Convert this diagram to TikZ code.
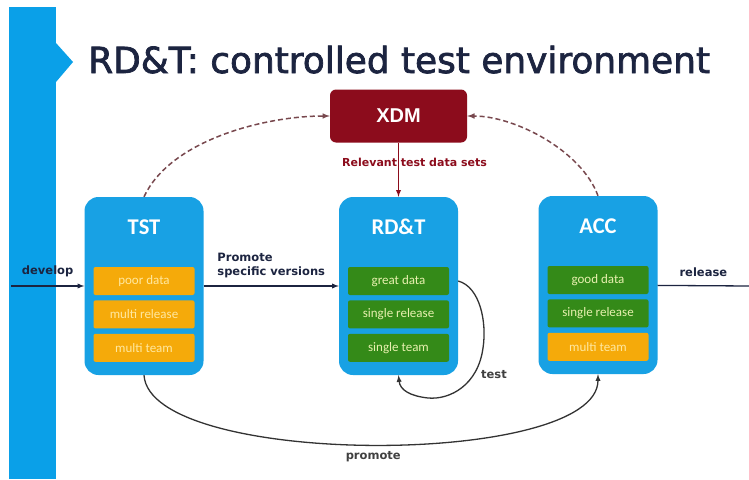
\documentclass[tikz,border=0pt]{standalone}
\usepackage{fontspec}
\setmainfont{DejaVu Sans}
\newfontfamily\titlefont[FakeBold=2]{DejaVu Sans}
\newfontfamily\calfont{Carlito}
\newfontfamily\arfont{Liberation Sans}
\usetikzlibrary{positioning}

\definecolor{barblue}{RGB}{10,160,232}
\definecolor{envblue}{RGB}{24,161,228}
\definecolor{warnorange}{RGB}{245,170,10}
\definecolor{warntext}{RGB}{255,232,160}
\definecolor{okgreen}{RGB}{52,138,24}
\definecolor{oktext}{RGB}{232,240,175}
\definecolor{xdmred}{RGB}{140,12,28}
\definecolor{navy}{RGB}{28,36,64}
\definecolor{dashgray}{RGB}{120,72,78}

\begin{document}
\begin{tikzpicture}[x=1pt, y=1pt, >=latex,
	envbox/.style={draw=none, fill=envblue, rounded corners=14pt,
		minimum width=119pt, minimum height=178pt, inner sep=0pt},
	envname/.style={text=white, font=\calfont\bfseries\fontsize{22.5}{23}\selectfont},
	warnitem/.style={draw=none, fill=warnorange, text=warntext,
		minimum width=101pt, minimum height=28pt, inner sep=0pt, rounded corners=2pt,
		font=\calfont\fontsize{13}{14}\selectfont},
	okitem/.style={warnitem, fill=okgreen, text=oktext},
	flow/.style={draw=navy, line width=1.3pt},
	flowlabel/.style={text=navy, font=\bfseries\fontsize{11.5}{14}\selectfont},
	dataflow/.style={draw=dashgray, line width=1.5pt, dash pattern=on 5pt off 3pt}]

	\fill[white] (0,0) rectangle (749,-479);
	\useasboundingbox (0,0) rectangle (749,-479);

	% side bar and title
	\fill[barblue] (9,-7) rectangle (56,-479);
	\fill[barblue] (56,-43) -- (73,-62) -- (56,-82) -- cycle;
	\node[anchor=base west, inner sep=0pt, text=navy,
		font=\titlefont\fontsize{35.9}{40}\selectfont] (title) at (88,-73)
		{RD\&T: controlled test environment};

	% Add the environments
	\node[envbox] (tst) at (144,-286) {};
	\node[envbox] (rdt) at (398.5,-286) {};
	\node[envbox] (acc) at (598,-285) {};
	\node[envname] (tstname) at ([yshift=-30pt]tst.north) {TST};
	\node[envname] (rdtname) at ([yshift=-30pt]rdt.north) {RD\&T};
	\node[envname] (accname) at ([yshift=-30pt]acc.north) {ACC};

	\node[warnitem, below=70pt of tst.north] (tst1) {poor data};
	\node[warnitem, below=5pt of tst1] (tst2) {multi release};
	\node[warnitem, below=5pt of tst2] (tst3) {multi team};

	\node[okitem, below=70pt of rdt.north] (rdt1) {great data};
	\node[okitem, below=5pt of rdt1] (rdt2) {single release};
	\node[okitem, below=5pt of rdt2] (rdt3) {single team};

	\node[okitem, below=70pt of acc.north] (acc1) {good data};
	\node[okitem, below=5pt of acc1] (acc2) {single release};
	\node[warnitem, below=5pt of acc2] (acc3) {multi team};

	% test data manager
	\node[draw=none, fill=xdmred, text=white, rounded corners=6pt,
		minimum width=137pt, minimum height=53pt,
		font=\arfont\bfseries\fontsize{20}{20}\selectfont] (xdm) at (398.5,-116) {XDM};
	\node[below=12pt of xdm, xshift=16pt, text=xdmred,
		font=\bfseries\fontsize{11}{13}\selectfont] (xdmlabel) {Relevant test data sets};

	\coordinate (devstart) at (11,-286);
	\coordinate (relend) at (749,-286);

	\draw[->, flow] (devstart) -- node[flowlabel, above=5pt] {develop} (tst);
	\draw[->, flow] (tst) -- node[flowlabel, above=4pt, align=left]
		{Promote\\specific versions} (rdt);
	\draw[flow] (acc) -- node[flowlabel, above=5pt] {release} (relend);
	\draw[->, xdmred, line width=1.3pt] (xdm.south) -- (rdt.north);

	\draw[->, dataflow] (tst.north) to[out=65, in=180, looseness=0.8] (xdm.west);
	\draw[->, dataflow] (acc.north) to[out=110, in=0, looseness=0.8] (xdm.east);

	\draw[->, draw=black!80, line width=1.3pt] (rdt.east |- rdt1)
		.. controls (480,-287) and (487,-322) .. (483,-348)
		.. controls (478,-385) and (450,-400) .. (428,-398)
		.. controls (410,-396) and (400,-390) .. (rdt.south);
	\node[flowlabel, text=black!75] (testlabel) at (494,-375) {test};

	\draw[->, draw=black!80, line width=1.3pt] (tst.south)
		.. controls (150,-468) and (598,-468) ..
		node[flowlabel, text=black!75, below=3pt] {promote} (acc.south);
\end{tikzpicture}
\end{document}
